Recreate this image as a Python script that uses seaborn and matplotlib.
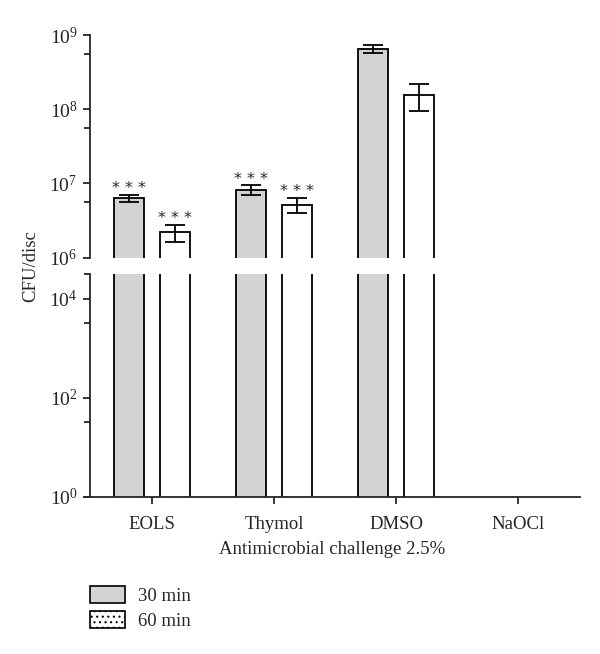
import numpy as np
import pandas as pd
import matplotlib
matplotlib.use("Agg")
import matplotlib.pyplot as plt
import matplotlib.ticker as mticker
from matplotlib.patches import Patch
import seaborn as sns

categories = ["EOLS", "Thymol", "DMSO", "NaOCl"]
times = ["30 min", "60 min"]
# NaOCl: no growth, nothing drawn
cfu_30 = [6.3e6, 8.2e6, 6.5e8]
err_30 = [0.7e6, 1.3e6, 0.85e8]
cfu_60 = [2.2e6, 5.2e6, 1.57e8]
err_60 = [0.57e6, 1.2e6, 0.63e8]
signif_30 = ["* * *", "* * *", ""]
signif_60 = ["* * *", "* * *", ""]

rows = []
for i in range(3):
    rows.append((categories[i], times[0], cfu_30[i], err_30[i], signif_30[i]))
    rows.append((categories[i], times[1], cfu_60[i], err_60[i], signif_60[i]))
df = pd.DataFrame(rows, columns=["challenge", "time", "cfu", "err", "sig"])

sns.set_style("ticks")
plt.rcParams["font.family"] = ["Liberation Serif", "DejaVu Serif"]
plt.rcParams["mathtext.fontset"] = "custom"
plt.rcParams["mathtext.rm"] = "Liberation Serif"
plt.rcParams["mathtext.it"] = "Liberation Serif:italic"
plt.rcParams["hatch.color"] = "0.4"
plt.rcParams["hatch.linewidth"] = 0.8

W, H = 600, 654
fig = plt.figure(figsize=(6, 6.54), dpi=100)
left, right = 85 / W, 580 / W
ax_top = fig.add_axes([left, 1 - 257.7 / H, right - left, (257.7 - 35) / H])
ax_bot = fig.add_axes([left, 1 - 496.5 / H, right - left, (496.5 - 274) / H])

pal = {"30 min": "lightgray", "60 min": "white"}

for ax in (ax_top, ax_bot):
    sns.barplot(data=df, x="challenge", y="cfu", hue="time", order=categories,
                hue_order=times, palette=pal, edgecolor="black", linewidth=1.3,
                width=0.75, gap=0.33, errorbar=None, legend=False, ax=ax)
    ax.set_yscale("log")
    for p in ax.patches:
        h = p.get_height()
        idx = np.flatnonzero(np.isclose(df["cfu"].values, h, rtol=1e-6))
        if len(idx) == 0:
            continue
        r = df.iloc[idx[0]]
        xc = p.get_x() + p.get_width() / 2
        ax.errorbar(xc, r["cfu"], yerr=r["err"], fmt="none", ecolor="black",
                    elinewidth=1.3, capsize=7, capthick=1.3, zorder=5)
        if ax is ax_top and r["sig"]:
            ax.annotate(r["sig"], (xc, r["cfu"] + r["err"]), xytext=(0, -1),
                        textcoords="offset points", ha="center", va="bottom",
                        fontsize=11.5, family="DejaVu Sans", color="0.15")
    ax.set_xlim(-(152 - 85) / 122, (580 - 152) / 122)
    ax.set_xlabel("")
    ax.set_ylabel("")
    sns.despine(ax=ax)
    ax.spines["left"].set_position(("axes", 5 / 495))
    ax.spines["left"].set_linewidth(1.3)
    ax.tick_params(axis="y", which="major", direction="out", length=5,
                   width=1.3, labelsize=14, pad=4)
    ax.tick_params(axis="y", which="minor", direction="out", length=4,
                   width=1.3)

# upper segment
ax_top.set_ylim(1e6, 1e9)
ax_top.yaxis.set_major_locator(mticker.FixedLocator([1e6, 1e7, 1e8, 1e9]))
ax_top.yaxis.set_minor_locator(mticker.FixedLocator(
    [10 ** 8.75, 10 ** 7.75, 10 ** 6.75]))
ax_top.yaxis.set_major_formatter(mticker.LogFormatterMathtext())
ax_top.yaxis.set_minor_formatter(mticker.NullFormatter())
ax_top.spines["bottom"].set_visible(False)
ax_top.tick_params(axis="x", bottom=False, labelbottom=False)

# lower segment
ax_bot.set_ylim(1, 10 ** 4.5)
ax_bot.yaxis.set_major_locator(mticker.FixedLocator([1, 1e2, 1e4]))
ax_bot.yaxis.set_minor_locator(mticker.FixedLocator(
    [10 ** 4.5, 10 ** 3.5, 10 ** 1.5]))
ax_bot.yaxis.set_major_formatter(mticker.LogFormatterMathtext())
ax_bot.yaxis.set_minor_formatter(mticker.NullFormatter())
ax_bot.spines["bottom"].set_linewidth(1.3)
ax_bot.tick_params(axis="x", direction="out", length=5, width=1.3,
                   labelsize=13.5, pad=9)
ax_bot.set_xlabel("Antimicrobial challenge 2.5%", fontsize=13.5, labelpad=6)

fig.text(31 / W, 1 - 266 / H, "CFU/disc", rotation=90, ha="center",
         va="center", fontsize=13.5)

handles = [Patch(facecolor="lightgray", edgecolor="black", linewidth=1.2),
           Patch(facecolor="white", edgecolor="black", linewidth=1.2,
                 hatch="...")]
fig.legend(handles, times, loc="upper left",
           bbox_to_anchor=(90 / W, 1 - 586 / H), frameon=False, fontsize=13.5,
           borderpad=0, borderaxespad=0, handlelength=1.85, handleheight=1.0,
           handletextpad=0.7, labelspacing=0.35)

fig.savefig("out.png", dpi=100)
